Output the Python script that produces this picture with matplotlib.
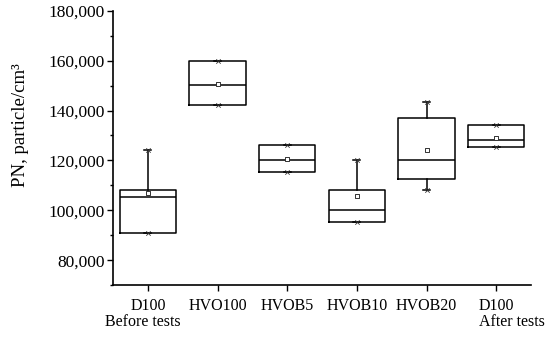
import matplotlib
matplotlib.use("Agg")
import matplotlib.pyplot as plt
from matplotlib.ticker import MultipleLocator, FuncFormatter
from matplotlib.transforms import blended_transform_factory

categories = ["D100", "HVO100", "HVOB5", "HVOB10", "HVOB20", "D100"]
subtitles = ["Before tests", "", "", "", "", "After tests"]
q1 = [91000, 142300, 115300, 95200, 112400, 125200]
median = [105300, 150300, 120300, 100000, 120300, 128200]
q3 = [108200, 160000, 126200, 108200, 137200, 134300]
whisker_low = [91000, 142300, 115300, 95200, 108300, 125200]
whisker_high = [124300, 160000, 126200, 120300, 143400, 134300]
mean = [107000, 150800, 120700, 105900, 124300, 129100]
minimum = [91000, 142300, 115300, 95200, 108300, 125200]
maximum = [124300, 160000, 126200, 120300, 143400, 134300]

plt.rcParams['font.family'] = ['Liberation Serif', 'DejaVu Serif']

fig = plt.figure(figsize=(5.5, 3.37), dpi=100)
ax = fig.add_axes([0.2055, 0.154, 0.76, 0.814])

stats = []
for i in range(len(categories)):
    stats.append(dict(q1=q1[i], med=median[i], q3=q3[i],
                      whislo=whisker_low[i], whishi=whisker_high[i],
                      fliers=[], label=categories[i]))
pos = list(range(1, len(categories) + 1))
lw = 1.1
ax.bxp(stats, positions=pos, widths=0.81, showfliers=False, capwidths=0.1,
       boxprops=dict(color='black', linewidth=lw),
       medianprops=dict(color='black', linewidth=lw),
       whiskerprops=dict(color='black', linewidth=lw),
       capprops=dict(color='black', linewidth=lw))
ax.scatter(pos, mean, marker='s', s=9, facecolors='white', edgecolors='#333333', linewidths=0.7, zorder=5)
ax.scatter(pos, minimum, marker='x', s=10, color='#333333', linewidths=0.6, zorder=5)
ax.scatter(pos, maximum, marker='x', s=10, color='#333333', linewidths=0.6, zorder=5)

ax.set_xlim(0.5, 6.5)
ax.set_ylim(70000, 180000)
ax.yaxis.set_major_locator(MultipleLocator(20000))
ax.yaxis.set_minor_locator(MultipleLocator(10000))
ax.yaxis.set_major_formatter(FuncFormatter(lambda v, p: f"{int(v):,}" if v >= 80000 else ""))
ax.set_xticks(pos)
ax.set_xticklabels(categories)
ax.tick_params(axis='both', which='major', width=1, length=4, direction='out', colors='black')
ax.tick_params(axis='x', labelsize=11.5, pad=5)
ax.tick_params(axis='y', labelsize=12.5, pad=2)
ax.tick_params(axis='y', which='minor', width=1, length=2.5, direction='out')
for s in ['top', 'right']:
    ax.spines[s].set_visible(False)
for s in ['left', 'bottom']:
    ax.spines[s].set_linewidth(1.2)

trans = blended_transform_factory(ax.transData, ax.transAxes)
sub_x = [0.93, 0, 0, 0, 0, 6.23]
for i, t in enumerate(subtitles):
    if t:
        ax.text(sub_x[i], -0.135, t, transform=trans, ha='center', va='center', fontsize=11.5)

ax.set_ylabel("PN, particle/cm³", fontsize=13.5)
ax.yaxis.set_label_coords(-0.2, 0.583)

fig.savefig("out.png", dpi=100)
